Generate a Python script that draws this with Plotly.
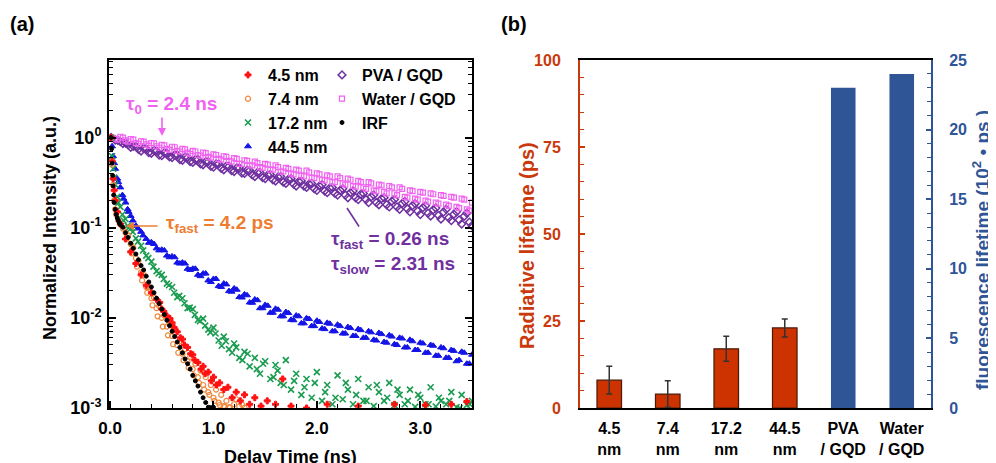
import plotly.graph_objects as go

# ---------------- DATA: panel (a) time-resolved decays ----------------
T_SLOW = [0.01, 0.05, 0.10, 0.15, 0.20, 0.25, 0.30, 0.35, 0.40, 0.45, 0.50, 0.55, 0.60, 0.65, 0.70,
          0.75, 0.80, 0.85, 0.90, 0.95, 1.00, 1.05, 1.10, 1.15, 1.20, 1.25, 1.30, 1.35, 1.40, 1.45,
          1.50, 1.55, 1.60, 1.65, 1.70, 1.75, 1.80, 1.85, 1.90, 1.95, 2.00, 2.05, 2.10, 2.15, 2.20,
          2.25, 2.30, 2.35, 2.40, 2.45, 2.50, 2.55, 2.60, 2.65, 2.70, 2.75, 2.80, 2.85, 2.90, 2.95,
          3.00, 3.05, 3.10, 3.15, 3.20, 3.25, 3.30, 3.35, 3.40, 3.45, 3.50]
T_HALF = [0.075, 0.125, 0.175, 0.225, 0.275, 0.325, 0.375, 0.425, 0.475, 0.525, 0.575, 0.625, 0.675, 0.725,
          0.775, 0.825, 0.875, 0.925, 0.975, 1.025, 1.075, 1.125, 1.175, 1.225, 1.275, 1.325, 1.375, 1.425,
          1.475, 1.525, 1.575, 1.625, 1.675, 1.725, 1.775, 1.825, 1.875, 1.925, 1.975, 2.025, 2.075, 2.125,
          2.175, 2.225, 2.275, 2.325, 2.375, 2.425, 2.475, 2.525, 2.575, 2.625, 2.675, 2.725, 2.775, 2.825,
          2.875, 2.925, 2.975, 3.025, 3.075, 3.125, 3.175, 3.225, 3.275, 3.325, 3.375, 3.425, 3.475]

WATER_GQD = [1.00, 0.97, 1.02, 0.93, 0.96, 0.87, 0.91, 0.84, 0.87, 0.80, 0.83, 0.75, 0.79, 0.71, 0.75,
             0.68, 0.71, 0.64, 0.68, 0.61, 0.65, 0.58, 0.62, 0.55, 0.59, 0.51, 0.56, 0.49, 0.54, 0.47,
             0.51, 0.44, 0.49, 0.42, 0.46, 0.40, 0.44, 0.38, 0.43, 0.36, 0.40, 0.34, 0.38, 0.32, 0.37,
             0.31, 0.35, 0.29, 0.33, 0.28, 0.32, 0.26, 0.30, 0.25, 0.29, 0.24, 0.28, 0.22, 0.26, 0.21,
             0.25, 0.20, 0.24, 0.19, 0.23, 0.18, 0.22, 0.17, 0.21, 0.16, 0.19]
WATER_GQD_HALF = [0.95, 1.00, 0.90, 0.95, 0.85, 0.90, 0.81, 0.86, 0.77, 0.82, 0.73, 0.78, 0.70, 0.74,
                  0.66, 0.70, 0.63, 0.67, 0.60, 0.64, 0.57, 0.61, 0.54, 0.58, 0.51, 0.55, 0.49, 0.52,
                  0.46, 0.50, 0.44, 0.47, 0.42, 0.45, 0.39, 0.43, 0.37, 0.41, 0.355, 0.39, 0.335, 0.37,
                  0.32, 0.355, 0.30, 0.34, 0.285, 0.32, 0.27, 0.31, 0.255, 0.295, 0.24, 0.28, 0.23, 0.27,
                  0.215, 0.255, 0.205, 0.245, 0.195, 0.235, 0.185, 0.225, 0.175, 0.215, 0.165, 0.205, 0.155]

PVA_GQD = [1.00, 0.94, 0.90, 0.87, 0.78, 0.80, 0.71, 0.75, 0.67, 0.71, 0.63, 0.67, 0.60, 0.64, 0.56,
           0.60, 0.53, 0.57, 0.50, 0.54, 0.47, 0.51, 0.44, 0.48, 0.42, 0.46, 0.40, 0.43, 0.37, 0.41,
           0.35, 0.39, 0.33, 0.37, 0.31, 0.35, 0.29, 0.33, 0.28, 0.31, 0.26, 0.30, 0.245, 0.28, 0.23,
           0.27, 0.215, 0.255, 0.205, 0.24, 0.19, 0.23, 0.18, 0.215, 0.17, 0.205, 0.16, 0.195, 0.15, 0.185,
           0.14, 0.175, 0.135, 0.165, 0.125, 0.16, 0.12, 0.15, 0.11, 0.145, 0.105]
PVA_GQD_HALF = [0.93, 0.86, 0.83, 0.80, 0.74, 0.76, 0.68, 0.72, 0.64, 0.68, 0.61, 0.64, 0.57, 0.61,
                0.54, 0.57, 0.51, 0.54, 0.48, 0.51, 0.455, 0.485, 0.43, 0.46, 0.405, 0.435, 0.385, 0.41,
                0.36, 0.385, 0.34, 0.365, 0.32, 0.345, 0.305, 0.325, 0.29, 0.305, 0.27, 0.29, 0.255, 0.275,
                0.24, 0.26, 0.23, 0.245, 0.215, 0.235, 0.205, 0.22, 0.19, 0.21, 0.18, 0.197, 0.17, 0.186,
                0.162, 0.176, 0.153, 0.167, 0.145, 0.158, 0.137, 0.149, 0.129, 0.141, 0.122, 0.134, 0.115]

NM445 = [1.00, 0.45, 0.28, 0.19, 0.135, 0.105, 0.090, 0.075, 0.069, 0.059, 0.057, 0.049, 0.048, 0.041, 0.041,
         0.035, 0.035, 0.030, 0.031, 0.026, 0.027, 0.0225, 0.024, 0.0198, 0.0212, 0.0170, 0.0182, 0.0148, 0.0160, 0.0128,
         0.0139, 0.0114, 0.0126, 0.0104, 0.0116, 0.0095, 0.0106, 0.0087, 0.0099, 0.0081, 0.0093, 0.0076, 0.0088, 0.0071, 0.0084,
         0.0067, 0.0079, 0.0063, 0.0075, 0.0060, 0.0071, 0.0057, 0.0068, 0.0054, 0.0064, 0.0051, 0.0060, 0.0047, 0.0057, 0.0044,
         0.0053, 0.0041, 0.0050, 0.0038, 0.0047, 0.0036, 0.0044, 0.0033, 0.0042, 0.0031, 0.0039]
NM445_T_EXTRA = [0.02, 0.03, 0.04, 0.07, 0.08, 0.12, 0.13, 0.17, 0.18, 0.22, 0.27, 0.32]
NM445_EXTRA = [0.80, 0.62, 0.52, 0.35, 0.32, 0.23, 0.21, 0.16, 0.15, 0.12, 0.098, 0.082]
NM445_HALF = [0.068, 0.066, 0.056, 0.056, 0.047, 0.047, 0.040, 0.040, 0.034, 0.035, 0.029, 0.031, 0.025, 0.027,
              0.022, 0.0235, 0.0195, 0.0205, 0.0168, 0.0178, 0.0147, 0.0157, 0.0128, 0.0136, 0.0114, 0.0123, 0.0104,
              0.0113, 0.0094, 0.0104, 0.0087, 0.0097, 0.0081, 0.0090, 0.0075, 0.0086, 0.0071, 0.0081, 0.0067, 0.0077,
              0.0063, 0.0073, 0.0060, 0.0069, 0.0056, 0.0066, 0.0053, 0.0062, 0.0050, 0.0059, 0.0047, 0.0055, 0.0044,
              0.0052, 0.0041, 0.0049, 0.0038, 0.0046, 0.0036, 0.0043, 0.0034, 0.0041, 0.0031]

NM172 = [1.0, 0.30, 0.17, 0.125, 0.098, 0.076, 0.063, 0.049, 0.042, 0.033, 0.030, 0.024, 0.022, 0.017, 0.0165,
         0.0128, 0.0125, 0.0095, 0.0098, 0.0074, 0.0078, 0.0056, 0.0062, 0.0045, 0.0052, 0.0036, 0.0042, 0.0029, 0.0036, 0.0024,
         0.0033, 0.0021, 0.0030, 0.0019, 0.0034, 0.0016, 0.0024, 0.0014, 0.0021, 0.0013, 0.0025, 0.0012, 0.0018, 0.0011, 0.0023,
         0.00125, 0.0016, 0.0011, 0.0021, 0.0012, 0.0017, 0.00105, 0.0015, 0.0012, 0.0019, 0.00108, 0.0014, 0.0011, 0.0016, 0.00103,
         0.0013, 0.0011, 0.0017, 0.00104, 0.0012, 0.0011, 0.0015, 0.00102, 0.0014, 0.00108, 0.0012]
NM172_T_EXTRA = [0.02, 0.03, 0.04, 0.07, 0.08, 0.12, 0.13, 0.17, 0.18, 0.22, 0.27, 0.32, 0.37, 0.42, 0.47,
                 0.52, 0.57, 0.62, 0.67, 0.72, 0.77, 0.82, 0.87, 0.92, 0.97, 1.02, 1.08, 1.12, 1.18, 1.22,
                 1.28, 1.33, 1.42, 1.48, 1.58, 1.62, 1.68, 1.78, 1.88, 1.98, 2.08, 2.18, 2.28, 2.38, 2.48,
                 2.58, 2.68, 2.78, 2.88, 2.98, 3.08, 3.18, 3.28, 3.38, 3.48]
NM172_EXTRA = [0.62, 0.45, 0.36, 0.22, 0.19, 0.14, 0.12, 0.105, 0.10, 0.090, 0.070, 0.056, 0.046, 0.037, 0.031,
               0.027, 0.023, 0.019, 0.0175, 0.0145, 0.013, 0.0108, 0.0092, 0.0082, 0.0069, 0.0067, 0.0049, 0.0055, 0.0041, 0.0047,
               0.0034, 0.0040, 0.0027, 0.0031, 0.0022, 0.0026, 0.0018, 0.0020, 0.0017, 0.0019, 0.0015, 0.0013, 0.0019, 0.0014, 0.0012,
               0.0018, 0.0013, 0.0016, 0.0012, 0.0014, 0.0011, 0.0013, 0.0012, 0.0010, 0.0011]

NM45_T = [0.01, 0.02, 0.03, 0.04, 0.05, 0.07, 0.10, 0.15, 0.20, 0.25, 0.30, 0.35, 0.40, 0.45, 0.48,
          0.50, 0.52, 0.55, 0.58, 0.60, 0.62, 0.65, 0.68, 0.70, 0.72, 0.75, 0.78, 0.80, 0.82, 0.85,
          0.88, 0.90, 0.92, 0.95, 0.98, 1.00, 1.03, 1.06, 1.10, 1.14, 1.18, 1.22, 1.26, 1.30, 1.35,
          1.40, 1.46, 1.52, 1.60, 1.67, 1.75, 1.90, 2.10, 2.40, 2.75, 3.05, 3.30, 3.45]
NM45 = [1.0, 0.55, 0.35, 0.26, 0.20, 0.15, 0.11, 0.075, 0.054, 0.040, 0.030, 0.023, 0.019, 0.016, 0.0148,
        0.0125, 0.0118, 0.0105, 0.0098, 0.0088, 0.0078, 0.0070, 0.0060, 0.0058, 0.0050, 0.0047, 0.0040, 0.0039, 0.0034, 0.0032,
        0.0027, 0.0029, 0.0024, 0.0025, 0.0020, 0.0022, 0.0018, 0.0019, 0.0016, 0.0017, 0.0013, 0.0015, 0.0012, 0.0014, 0.0011,
        0.0013, 0.00105, 0.0012, 0.0011, 0.0021, 0.00105, 0.0010, 0.0011, 0.00105, 0.0011, 0.00108, 0.0011, 0.00118]

NM74_T = [0.01, 0.02, 0.03, 0.04, 0.05, 0.06, 0.08, 0.10,
          0.125, 0.15, 0.175, 0.20, 0.225, 0.25, 0.275, 0.30, 0.325, 0.35, 0.375, 0.40, 0.425, 0.45,
          0.475, 0.50, 0.525, 0.55, 0.575, 0.60, 0.625, 0.65, 0.675, 0.70, 0.725, 0.75, 0.775, 0.80,
          0.825, 0.85, 0.875, 0.90, 0.925, 0.95, 0.975, 1.00, 1.025, 1.05, 1.075, 1.10, 1.125, 1.15,
          1.20, 1.25, 1.30]
NM74 = [1.0, 0.5, 0.3, 0.2, 0.16, 0.14, 0.12, 0.108,
        0.098, 0.088, 0.082, 0.066, 0.060, 0.046, 0.043, 0.032, 0.030, 0.022, 0.022, 0.0165, 0.0168, 0.0128,
        0.0135, 0.0100, 0.0106, 0.0080, 0.0085, 0.0063, 0.0068, 0.0050, 0.0055, 0.0040, 0.0045, 0.0033, 0.0037, 0.0027,
        0.0031, 0.0022, 0.0026, 0.0018, 0.0022, 0.0015, 0.0018, 0.0013, 0.0016, 0.00115, 0.0014, 0.00105, 0.0012, 0.00102,
        0.0011, 0.00104, 0.00101]
NM74_T_EXTRA = [0.16, 0.21, 0.26, 0.31, 0.36, 0.41, 0.46, 0.51, 0.56, 0.61, 0.66, 0.71, 0.76, 0.81, 0.86,
                0.91, 0.96, 1.01, 1.06, 1.11, 1.16, 1.22, 1.28]
NM74_EXTRA = [0.075, 0.052, 0.037, 0.026, 0.019, 0.0138, 0.0104, 0.0080, 0.0064, 0.0051, 0.0041, 0.0034, 0.0028, 0.0023, 0.0019,
              0.0016, 0.0014, 0.0012, 0.00108, 0.00103, 0.00101, 0.00125, 0.00108]

IRF_T = [0.01, 0.015, 0.02, 0.025, 0.03, 0.035, 0.04, 0.05, 0.06, 0.07, 0.08, 0.09, 0.10,
         0.125, 0.15, 0.175, 0.20, 0.225, 0.25, 0.275, 0.30, 0.325, 0.35, 0.375, 0.40, 0.425, 0.45,
         0.475, 0.50, 0.525, 0.55, 0.575, 0.60, 0.625, 0.65, 0.675, 0.70, 0.725, 0.75, 0.775, 0.80,
         0.825, 0.85, 0.875, 0.90, 0.925, 0.95, 0.975, 1.00]
IRF = [1.0, 0.75, 0.52, 0.38, 0.29, 0.23, 0.19, 0.16, 0.14, 0.128, 0.12, 0.113, 0.108,
       0.101, 0.088, 0.078, 0.067, 0.059, 0.051, 0.044, 0.038, 0.034, 0.029, 0.025, 0.022, 0.019, 0.0165,
       0.0144, 0.0125, 0.0109, 0.0094, 0.0082, 0.0071, 0.0062, 0.0054, 0.0047, 0.0041, 0.0035, 0.0031, 0.0027, 0.0023,
       0.0020, 0.00175, 0.0015, 0.0013, 0.00115, 0.00102, 0.00101, 0.00102]

# ---------------- DATA: panel (b) lifetimes ----------------
CATEGORIES = ["4.5<br>nm", "7.4<br>nm", "17.2<br>nm", "44.5<br>nm", "PVA<br>/ GQD", "Water<br>/ GQD"]
RADIATIVE_PS = [8, 4, 17, 23]
RADIATIVE_ERR = [4, 3.8, 3.6, 2.6]
FLUOR_1E2PS = [23, 24]

# ---------------- styling ----------------
W, H = 996, 463
OFF = 8  # page body margin added by the browser
FW, FH = W - OFF, H - OFF
FONT = "Liberation Sans, Arial, sans-serif"
RED_B = "#c9390b"
BLUE_B = "#2f5597"
C_RED, C_ORANGE, C_GREEN, C_BLUE = "#ff1010", "#f0883c", "#1a9c50", "#1414e6"
C_PURPLE, C_PINK = "#7030a0", "#f062f0"

def px_x(p):
    return (p - OFF) / FW

def px_y(p):
    return 1 - (p - OFF) / FH

fig = go.Figure()

def sc(x, y, name, color, symbol, size, legend, rank, lw=1.0):
    fig.add_trace(go.Scatter(
        x=x, y=y, mode="markers", name=name, legend=legend, legendrank=rank,
        marker=dict(color=color, symbol=symbol, size=size, line=dict(color=color, width=lw)),
        xaxis="x", yaxis="y"))

sc(T_SLOW + T_HALF, PVA_GQD + PVA_GQD_HALF, "PVA / GQD", C_PURPLE, "diamond-open", 6, "legend2", 1, lw=1.5)
sc(T_SLOW + T_HALF, WATER_GQD + WATER_GQD_HALF, "Water / GQD", C_PINK, "square-open", 5, "legend2", 2, lw=1.2)
sc(T_SLOW + NM445_T_EXTRA + T_HALF[6:], NM445 + NM445_EXTRA + NM445_HALF, "44.5 nm", C_BLUE, "triangle-up", 6, "legend", 4)
sc(T_SLOW + NM172_T_EXTRA, NM172 + NM172_EXTRA, "17.2 nm", C_GREEN, "x-thin-open", 6, "legend", 3, lw=1.6)
sc(NM74_T + NM74_T_EXTRA, NM74 + NM74_EXTRA, "7.4 nm", C_ORANGE, "circle-open", 5, "legend", 2, lw=1.2)
sc(NM45_T, NM45, "4.5 nm", C_RED, "cross", 5, "legend", 1)
sc(IRF_T, IRF, "IRF", "black", "circle", 4, "legend2", 3)

# panel (b) bars
fig.add_trace(go.Bar(
    x=[0, 1, 2, 3], y=RADIATIVE_PS, width=0.42, xaxis="x2", yaxis="y2", showlegend=False,
    marker=dict(color="#cc3300", line=dict(color="#4a1a08", width=1.2)),
    error_y=dict(type="data", array=RADIATIVE_ERR, color="#333333", thickness=1.5, width=3)))
fig.add_trace(go.Bar(
    x=[4, 5], y=FLUOR_1E2PS, width=0.42, xaxis="x2", yaxis="y3", showlegend=False,
    marker=dict(color=BLUE_B, line=dict(width=0))))

yd = [px_y(408), px_y(60)]
log_minor = [m * 10 ** e for e in range(-3, 1) for m in range(2, 10)] + [2, 3, 4, 5, 6, 7]

fig.update_layout(
    width=FW, height=FH, margin=dict(l=0, r=0, t=0, b=0, pad=0, autoexpand=False),
    autosize=False,
    paper_bgcolor="white", plot_bgcolor="white",
    font=dict(family=FONT, size=16, color="black"),
    barmode="overlay",
    xaxis=dict(domain=[px_x(109), px_x(472)], anchor="y", range=[-0.01, 3.5], automargin=False,
               tickvals=[0, 1, 2, 3], ticktext=["0.0", "1.0", "2.0", "3.0"],
               ticks="inside", ticklen=7, tickwidth=1.5, tickcolor="black",
               minor=dict(dtick=0.2, tick0=0, ticks="inside", ticklen=4, tickwidth=1.2, tickcolor="black"),
               showline=True, linewidth=2, linecolor="black", mirror=True,
               showgrid=False, zeroline=False, ticklabelstandoff=4,
               tickfont=dict(size=17, weight="bold")),
    yaxis=dict(domain=yd, anchor="x", type="log", range=[-3, 0.86], automargin=False,
               tickvals=[1e-3, 1e-2, 1e-1, 1],
               ticktext=["10<sup>-3</sup>", "10<sup>-2</sup>", "10<sup>-1</sup>", "10<sup>0</sup>"],
               ticks="inside", ticklen=7, tickwidth=1.5, tickcolor="black",
               minor=dict(tickvals=log_minor, ticks="inside", ticklen=4, tickwidth=1.2, tickcolor="black"),
               showline=True, linewidth=2, linecolor="black", mirror="allticks",
               showgrid=False, zeroline=False, ticklabelstandoff=2,
               tickfont=dict(size=18, weight="bold")),
    xaxis2=dict(domain=[px_x(580), px_x(931)], anchor="y2", range=[-0.5, 5.5], automargin=False,
                tickvals=[0, 1, 2, 3, 4, 5], ticktext=CATEGORIES, ticks="",
                showline=True, linewidth=2, linecolor="black", mirror=True,
                showgrid=False, zeroline=False, ticklabelstandoff=5,
                tickfont=dict(size=16, weight="bold")),
    yaxis2=dict(domain=yd, anchor="x2", range=[0, 100], tickvals=[0, 25, 50, 75, 100], automargin=False,
                ticks="inside", ticklen=5, tickwidth=1.5, tickcolor=RED_B,
                minor=dict(dtick=5, ticks="inside", ticklen=4, tickwidth=1.2, tickcolor=RED_B),
                showline=True, linewidth=2, linecolor=RED_B, showgrid=False, zeroline=False,
                ticklabelstandoff=14, tickfont=dict(size=16, weight="bold", color=RED_B)),
    yaxis3=dict(domain=yd, anchor="x2", overlaying="y2", side="right", range=[0, 25], automargin=False,
                tickvals=[0, 5, 10, 15, 20, 25],
                ticks="inside", ticklen=5, tickwidth=1.5, tickcolor=BLUE_B,
                minor=dict(dtick=1, ticks="inside", ticklen=4, tickwidth=1.2, tickcolor=BLUE_B),
                showline=True, linewidth=2, linecolor=BLUE_B, showgrid=False, zeroline=False,
                ticklabelstandoff=13, tickfont=dict(size=16, weight="bold", color=BLUE_B)),
    legend=dict(x=px_x(228), y=px_y(58), xanchor="left", yanchor="top", bgcolor="rgba(0,0,0,0)",
                font=dict(size=16, weight="bold"), itemwidth=30, tracegroupgap=0, traceorder="normal"),
    legend2=dict(x=px_x(322), y=px_y(58), xanchor="left", yanchor="top", bgcolor="rgba(0,0,0,0)",
                 font=dict(size=16, weight="bold"), itemwidth=30, tracegroupgap=0, traceorder="normal"),
)

ann = []
def text(x, y, s, color="black", size=16, angle=0, xanchor="center", align="center"):
    ann.append(dict(x=px_x(x), y=px_y(y), xref="paper", yref="paper", text=s, showarrow=False,
                    font=dict(size=size, color=color, family=FONT, weight="bold"),
                    textangle=angle, xanchor=xanchor, yanchor="middle", align=align))

def arrow(xh, yh, ax, ay, color, head=2):
    ann.append(dict(x=px_x(xh), y=px_y(yh), xref="paper", yref="paper", text="", showarrow=True,
                    ax=ax, ay=ay, arrowhead=head, arrowsize=1, arrowwidth=1.6, arrowcolor=color))

text(22, 24, "(a)", size=20)
text(514, 24, "(b)", size=20)
text(50, 228, "Normalized Intensity (a.u.)", size=18, angle=-90)
text(290, 457, "Delay Time (ns)", size=18)
text(171, 105, "τ<sub>0</sub> = 2.4 ns", color=C_PINK, size=19)
arrow(162, 136, 0, -20, C_PINK)
text(220, 224, "τ<sub>fast</sub> = 4.2 ps", color="#ed7d31", size=19)
arrow(126, 226, 33, 0, "#ed7d31")
text(329, 252, "τ<sub>fast</sub> = 0.26 ns<br>τ<sub>slow</sub> = 2.31 ns", color=C_PURPLE, size=19,
     xanchor="left", align="left")
arrow(347, 208, 13, 20, C_PURPLE, head=0)
text(527, 246, "Radiative lifetime (ps)", color=RED_B, size=20, angle=-90)
text(981, 250, "fluorescence lifetime (10<sup>2</sup> • ps )", color=BLUE_B, size=19, angle=-90)
fig.update_layout(annotations=ann)

fig.write_html("out.html")
